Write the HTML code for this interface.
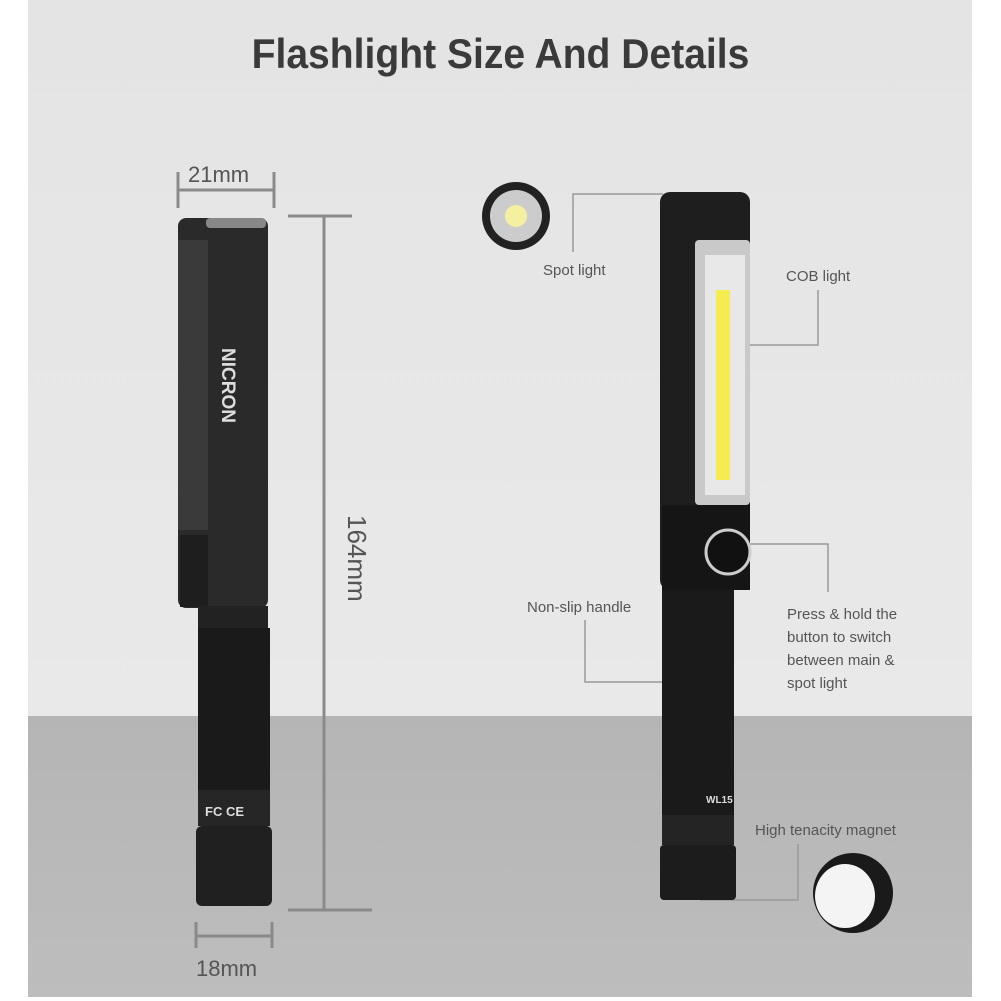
<!DOCTYPE html><html><head><style>
body{margin:0;width:1001px;height:1001px;background:#fff;position:relative;overflow:hidden;font-family:"Liberation Sans",sans-serif}
.a{position:absolute}
.t{position:absolute;color:#555;font-size:15px}
</style></head><body>
<div class="a" style="left:28px;top:0;width:944px;height:716px;background:linear-gradient(#e4e4e4,#e9e9e9)"></div>
<div class="a" style="left:28px;top:716px;width:944px;height:281px;background:linear-gradient(#b5b5b5,#bdbdbd)"></div>
<div class="a" style="left:0;top:30px;width:1001px;text-align:center;font-size:42px;font-weight:bold;color:#3a3a3a;transform:scaleX(0.93)">Flashlight Size And Details</div>
<svg class="a" style="left:0;top:0" width="1001" height="1001">
<g stroke="#8a8a8a" stroke-width="3" fill="none">
<path d="M178 172v36M274 172v36M178 190h96"/>
<path d="M196 922v26M272 922v26M196 936h76"/>
<path d="M288 216h64M324 216v694M288 910h84"/>
</g>
<g stroke="#999" stroke-width="1.5" fill="none">
<path d="M573 252v-58h90"/><path d="M748 345h70v-55"/><path d="M750 544h78v48"/><path d="M585 620v62h85"/><path d="M700 900h98v-56"/>
</g>
<rect x="178" y="218" width="90" height="390" rx="8" fill="#2a2a2a"/>
<rect x="178" y="240" width="30" height="290" fill="#3a3a3a"/>
<rect x="206" y="218" width="60" height="10" rx="4" fill="#888"/>
<rect x="180" y="535" width="28" height="72" fill="#1e1e1e"/>
<rect x="198" y="606" width="70" height="24" fill="#222"/>
<rect x="198" y="628" width="72" height="162" fill="#1a1a1a"/>
<rect x="198" y="790" width="72" height="36" fill="#262626"/>
<rect x="196" y="826" width="76" height="80" rx="6" fill="#202020"/>
<text x="222" y="348" transform="rotate(90 222 348)" fill="#ddd" font-weight="bold" font-size="19">NICRON</text>
<text x="205" y="816" fill="#ddd" font-size="13" font-weight="bold">FC CE</text>
<rect x="660" y="192" width="90" height="398" rx="10" fill="#1e1e1e"/>
<rect x="695" y="240" width="55" height="265" rx="4" fill="#c9c9c9"/>
<rect x="705" y="255" width="40" height="240" fill="#e8e8e8"/>
<rect x="716" y="290" width="14" height="190" fill="#f4ec50"/>
<rect x="662" y="505" width="88" height="85" fill="#151515"/>
<circle cx="728" cy="552" r="22" fill="#111" stroke="#ccc" stroke-width="3"/>
<rect x="662" y="590" width="72" height="225" fill="#1a1a1a"/>
<rect x="662" y="815" width="72" height="30" fill="#242424"/>
<rect x="660" y="845" width="76" height="55" rx="4" fill="#1c1c1c"/>
<text x="706" y="803" fill="#ddd" font-size="10" font-weight="bold">WL15</text>
<circle cx="516" cy="216" r="34" fill="#222"/>
<circle cx="516" cy="216" r="26" fill="#ccc"/>
<circle cx="516" cy="216" r="11" fill="#f4f0a0"/>
<circle cx="853" cy="893" r="40" fill="#1a1a1a"/>
<ellipse cx="845" cy="896" rx="30" ry="32" fill="#f4f4f4"/>
</svg>
<div class="t" style="left:188px;top:162px;font-size:22px">21mm</div>
<div class="t" style="left:196px;top:956px;font-size:22px">18mm</div>
<div class="t" style="font-size:26px;transform:rotate(90deg);transform-origin:left top;left:372px;top:515px">164mm</div>
<div class="t" style="left:543px;top:262px">Spot light</div>
<div class="t" style="left:786px;top:268px">COB light</div>
<div class="t" style="left:527px;top:599px">Non-slip handle</div>
<div class="t" style="left:787px;top:603px;line-height:23px">Press &amp; hold the<br>button to switch<br>between main &amp;<br>spot light</div>
<div class="t" style="left:755px;top:822px">High tenacity magnet</div>
</body></html>
